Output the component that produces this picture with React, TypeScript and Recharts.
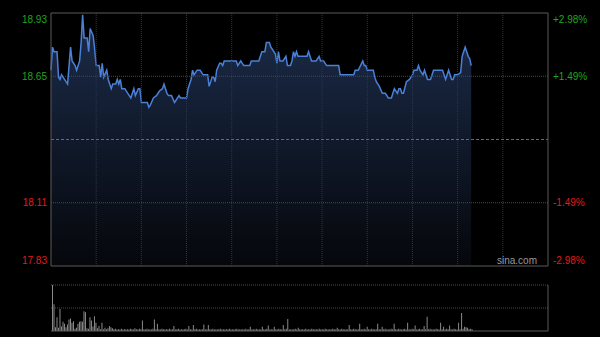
import React from "react";
import { Area, Bar, ComposedChart, ReferenceLine, XAxis, YAxis } from "recharts";

// HK intraday: 330 trading minutes, grid every 30 minutes
const sessionMinutes = 330;
const gridMinutes = [30, 60, 90, 120, 150, 180, 210, 240, 270, 300];
const prevClose = 18.38;
const rangePct = 0.0298;

const priceMinutes = [
  0, 1, 2, 4, 5, 6, 7, 9, 11, 12, 13, 14, 16, 17, 19, 20, 21, 22, 24, 25, 26, 28, 29, 30, 32, 33, 34, 35, 37, 38,
  40, 41, 43, 44, 45, 46, 47, 49, 51, 53, 55, 56, 58, 59, 60, 64, 65, 66, 68, 70, 72, 74, 75, 77, 78, 80, 82, 83, 85, 86,
  90, 91, 92, 93, 94, 95, 97, 99, 101, 103, 104, 105, 107, 108, 109, 110, 112, 113, 114, 115, 118, 123, 124, 126, 128, 132, 133, 138, 139, 140,
  142, 143, 145, 146, 147, 149, 150, 151, 152, 154, 156, 157, 159, 160, 161, 162, 163, 164, 170, 171, 173, 176, 178, 179, 181, 183, 186, 191, 192, 201,
  202, 204, 207, 208, 209, 210, 214, 215, 216, 218, 220, 222, 224, 226, 227, 228, 230, 231, 232, 233, 234, 236, 238, 240, 241, 243, 244, 245, 247, 248,
  250, 252, 254, 260, 262, 264, 266, 267, 268, 270, 272, 273, 274, 275, 277, 278, 279,
];
const prices = [
  18.68, 18.78, 18.76, 18.76, 18.65, 18.64, 18.66, 18.64, 18.62, 18.70, 18.78, 18.72, 18.70, 18.68, 18.72, 18.80, 18.92, 18.82, 18.82, 18.76, 18.86, 18.83, 18.77, 18.70, 18.70, 18.65, 18.71, 18.65, 18.68, 18.64,
  18.60, 18.62, 18.62, 18.64, 18.62, 18.64, 18.60, 18.60, 18.58, 18.56, 18.60, 18.57, 18.60, 18.60, 18.54, 18.54, 18.52, 18.53, 18.56, 18.57, 18.59, 18.60, 18.62, 18.58, 18.57, 18.57, 18.54, 18.55, 18.57, 18.56,
  18.56, 18.60, 18.62, 18.64, 18.68, 18.66, 18.68, 18.68, 18.66, 18.66, 18.66, 18.61, 18.65, 18.65, 18.63, 18.68, 18.71, 18.71, 18.70, 18.72, 18.72, 18.72, 18.70, 18.72, 18.70, 18.70, 18.72, 18.72, 18.74, 18.76,
  18.76, 18.80, 18.80, 18.78, 18.77, 18.75, 18.71, 18.76, 18.72, 18.72, 18.74, 18.70, 18.70, 18.72, 18.76, 18.74, 18.76, 18.74, 18.74, 18.76, 18.72, 18.72, 18.74, 18.72, 18.72, 18.70, 18.70, 18.70, 18.66, 18.66,
  18.68, 18.68, 18.72, 18.70, 18.70, 18.68, 18.68, 18.65, 18.63, 18.61, 18.58, 18.58, 18.56, 18.56, 18.58, 18.60, 18.58, 18.60, 18.60, 18.58, 18.58, 18.63, 18.64, 18.66, 18.68, 18.68, 18.70, 18.68, 18.66, 18.68,
  18.64, 18.64, 18.68, 18.68, 18.64, 18.68, 18.64, 18.64, 18.66, 18.66, 18.67, 18.74, 18.76, 18.78, 18.74, 18.73, 18.70,
];

// volume per minute, relative to the opening bar
const volumes = [
  100, 58, 8, 30, 7, 48, 10, 20, 16, 8,
  14, 25, 27, 18, 21, 5, 7, 16, 20, 21,
  20, 43, 41, 6, 5, 30, 23, 10, 32, 18,
  6, 11, 4, 18, 4, 7, 4, 6, 11, 8,
  6, 4, 5, 3, 4, 3, 5, 3, 4, 3,
  4, 3, 5, 4, 3, 6, 4, 3, 5, 4,
  23, 4, 3, 5, 3, 4, 3, 5, 25, 4,
  16, 4, 3, 5, 4, 3, 4, 3, 5, 3,
  4, 11, 3, 4, 5, 3, 4, 3, 4, 5,
  3, 11, 4, 3, 13, 4, 5, 3, 4, 3,
  4, 14, 3, 4, 13, 4, 3, 5, 3, 4,
  3, 4, 5, 3, 4, 3, 4, 3, 5, 3,
  4, 3, 4, 5, 3, 4, 3, 4, 3, 5,
  3, 4, 9, 3, 4, 3, 5, 3, 4, 3,
  9, 4, 3, 5, 12, 3, 4, 3, 9, 4,
  3, 5, 4, 3, 13, 4, 5, 26, 3, 4,
  3, 4, 5, 3, 7, 4, 3, 4, 3, 5,
  3, 4, 3, 5, 4, 3, 4, 3, 5, 3,
  4, 3, 5, 4, 3, 4, 3, 5, 4, 3,
  7, 4, 3, 5, 4, 3, 4, 3, 13, 4,
  3, 5, 4, 3, 4, 16, 4, 3, 5, 3,
  9, 4, 3, 5, 4, 3, 4, 16, 4, 3,
  9, 4, 5, 3, 4, 3, 5, 4, 16, 4,
  3, 5, 4, 3, 4, 5, 3, 18, 4, 3,
  5, 4, 12, 3, 4, 5, 3, 4, 11, 4,
  31, 4, 5, 3, 4, 3, 5, 4, 3, 18,
  4, 9, 3, 5, 4, 12, 4, 3, 5, 4,
  3, 18, 4, 39, 5, 9, 8, 7, 4, 5,
  4,
];

const hi = prevClose * (1 + rangePct);
const lo = prevClose * (1 - rangePct);
const up1 = prevClose * (1 + rangePct / 2);
const dn1 = prevClose * (1 - rangePct / 2);
const priceTicks = [hi, up1, dn1, lo];

const priceRows = priceMinutes.map((m, i) => ({ minute: m, price: prices[i] }));
// one slot per trading minute, empty after the last trade
const volRows = Array.from({ length: sessionMinutes + 1 }, (_, i) => ({ minute: i, vol: volumes[i] ?? null }));

const GREEN = "#1fa51f";
const RED = "#e01b1b";
const BORDER = "#5a5a5a";
const FONT = "Arial, 'Liberation Sans', sans-serif";

// one tick draws the price on the left and the change on the right
function PriceTick(props: any) {
  const { y, payload } = props;
  const v = payload.value as number;
  let dy = 0;
  if (v === hi) dy = 6;
  if (v === lo) dy = -6;
  const color = v > prevClose ? GREEN : RED;
  const p = ((v - prevClose) / prevClose) * 100;
  const pctLabel = (p > 0 ? "+" : "") + p.toFixed(2) + "%";
  return (
    <g fontSize={10} fontFamily={FONT} fill={color}>
      <text x={47} y={y + dy} dy="0.35em" textAnchor="end">
        {v.toFixed(2)}
      </text>
      <text x={553} y={y + dy} dy="0.35em" textAnchor="start">
        {pctLabel}
      </text>
    </g>
  );
}

export default function App() {
  return (
    <div style={{ position: "fixed", left: 0, top: 0, width: 600, height: 337, background: "#000", overflow: "hidden" }}>
      <div style={{ position: "absolute", left: 0, top: 0 }}>
        <ComposedChart width={600} height={270} data={priceRows} margin={{ top: 13, right: 52, bottom: 4, left: 0 }}>
          <defs>
            <linearGradient id="priceFill" x1="0" y1="0" x2="0" y2="1">
              <stop offset="0%" stopColor="#1c2c4a" />
              <stop offset="100%" stopColor="#05070b" />
            </linearGradient>
          </defs>
          <XAxis type="number" dataKey="minute" domain={[0, sessionMinutes]} hide />
          <YAxis
            domain={[lo, hi]}
            ticks={priceTicks}
            interval={0}
            width={51}
            axisLine={false}
            tickLine={false}
            tick={(p: any) => <PriceTick {...p} />}
          />
          <Area
            type="linear"
            dataKey="price"
            stroke="#4a80d8"
            strokeWidth={1.5}
            fill="url(#priceFill)"
            fillOpacity={1}
            dot={false}
            activeDot={false}
            isAnimationActive={false}
          />
          {gridMinutes.map((m) => (
            <ReferenceLine key={m} x={m} stroke="#353535" strokeDasharray="1 1" />
          ))}
          <ReferenceLine y={up1} stroke="#4a4a4a" strokeDasharray="1 1" />
          <ReferenceLine y={dn1} stroke="#4a4a4a" strokeDasharray="1 1" />
          <ReferenceLine y={prevClose} stroke="#6a6a6a" strokeDasharray="3 2" />
          <ReferenceLine y={hi} stroke={BORDER} />
          <ReferenceLine y={lo} stroke={BORDER} />
          <ReferenceLine x={0} stroke={BORDER} />
          <ReferenceLine x={sessionMinutes} stroke={BORDER} />
        </ComposedChart>
      </div>
      <div
        style={{ position: "absolute", left: 497, top: 255, color: "#9a9a9a", fontSize: 10, fontFamily: FONT, lineHeight: "12px" }}
      >
        sina.com
      </div>
      <div style={{ position: "absolute", left: 0, top: 280 }}>
        <ComposedChart
          width={600}
          height={56}
          data={volRows}
          barCategoryGap={0}
          margin={{ top: 5, right: 52, bottom: 5, left: 51 }}
        >
          <XAxis dataKey="minute" hide padding={{ left: 1, right: 0 }} />
          <YAxis
            domain={[0, 100]}
            width={0}
            tick={false}
            tickLine={false}
            axisLine={{ stroke: BORDER }}
          />
          <Bar dataKey="vol" fill="#8a8a8a" barSize={1} isAnimationActive={false} />
          <ReferenceLine y={100} stroke="#4a4a4a" strokeDasharray="1 1" />
          <ReferenceLine y={50} stroke="#4a4a4a" strokeDasharray="1 1" />
          <ReferenceLine y={0} stroke={BORDER} />
          <ReferenceLine x={sessionMinutes} position="end" stroke={BORDER} />
        </ComposedChart>
      </div>
    </div>
  );
}
